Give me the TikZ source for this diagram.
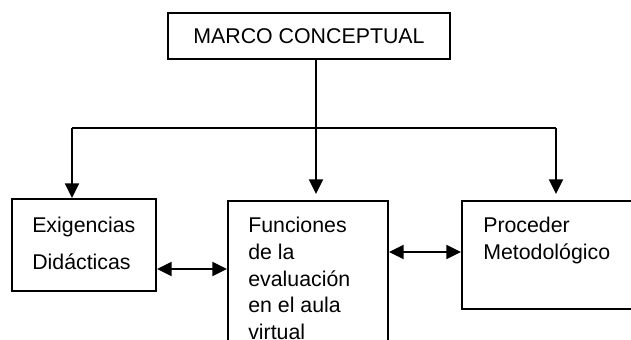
\documentclass[tikz,border=0pt]{standalone}
\usepackage{fontspec}
\setmainfont{Liberation Sans}
\usetikzlibrary{arrows.meta}

\begin{document}
\begin{tikzpicture}[x=0.75pt,y=0.75pt,yscale=-1,xscale=1,
    box/.style={draw, line width=1.5pt, inner sep=0pt},
    lbl/.style={anchor=north west, inner sep=0pt, align=left, font=\fontsize{16}{20}\selectfont},
    con/.style={line width=1.5pt},
    dn/.style={con, -{Triangle[width=10.5pt,length=11pt]}},
    dbl/.style={con, {Triangle[width=10.5pt,length=11pt]}-{Triangle[width=10.5pt,length=11pt]}}]
    	\useasboundingbox (0,0) rectangle (631,339);
    	\clip (0,0) rectangle (631,339);
    	
    	% boxes
    	\node [box, minimum width=282*0.75pt, minimum height=46*0.75pt, font=\fontsize{16}{20}\selectfont] (marco) at (309,36) {MARCO CONCEPTUAL};
    	\node [box, minimum width=144*0.75pt, minimum height=92*0.75pt] (exig) at (84,245) {};
    	\node [box, minimum width=160*0.75pt, minimum height=180*0.75pt] (func) at (308,291) {};
    	\node [box, minimum width=198*0.75pt, minimum height=108*0.75pt] (proc) at (561,255) {};
    	
    	% texts
    	\node [lbl, font=\fontsize{16}{27.75}\selectfont] (exigt) at (32,217) {Exigencias\\Didácticas};
    	\node [lbl] (funct) at (248,217) {Funciones\\de la\\evaluación\\en el aula\\virtual};
    	\node [lbl] (proct) at (483,217) {Proceder\\Metodológico};
    	
    	% tree
    	\coordinate (jl) at (72,128);
    	\coordinate (jn) at (316,128);
    	\coordinate (jr) at (556,128);
    	\draw [con] (marco.south -| jn) -- (jn);
    	\draw [con] (jl) -- (jr);
    	\draw [dn] (jl) -- (exig.north -| jl);
    	\draw [dn, shorten >=4.5pt] (jn) -- (func.north -| jn);
    	\draw [dn, shorten >=4.5pt] (jr) -- (proc.north -| jr);
    	
    	% double arrows
    	\draw [dbl] (exig.east |- 0,269) -- (func.west |- 0,269);
    	\draw [dbl] (func.east |- 0,252) -- (proc.west |- 0,252);
    	
\end{tikzpicture}
\end{document}
